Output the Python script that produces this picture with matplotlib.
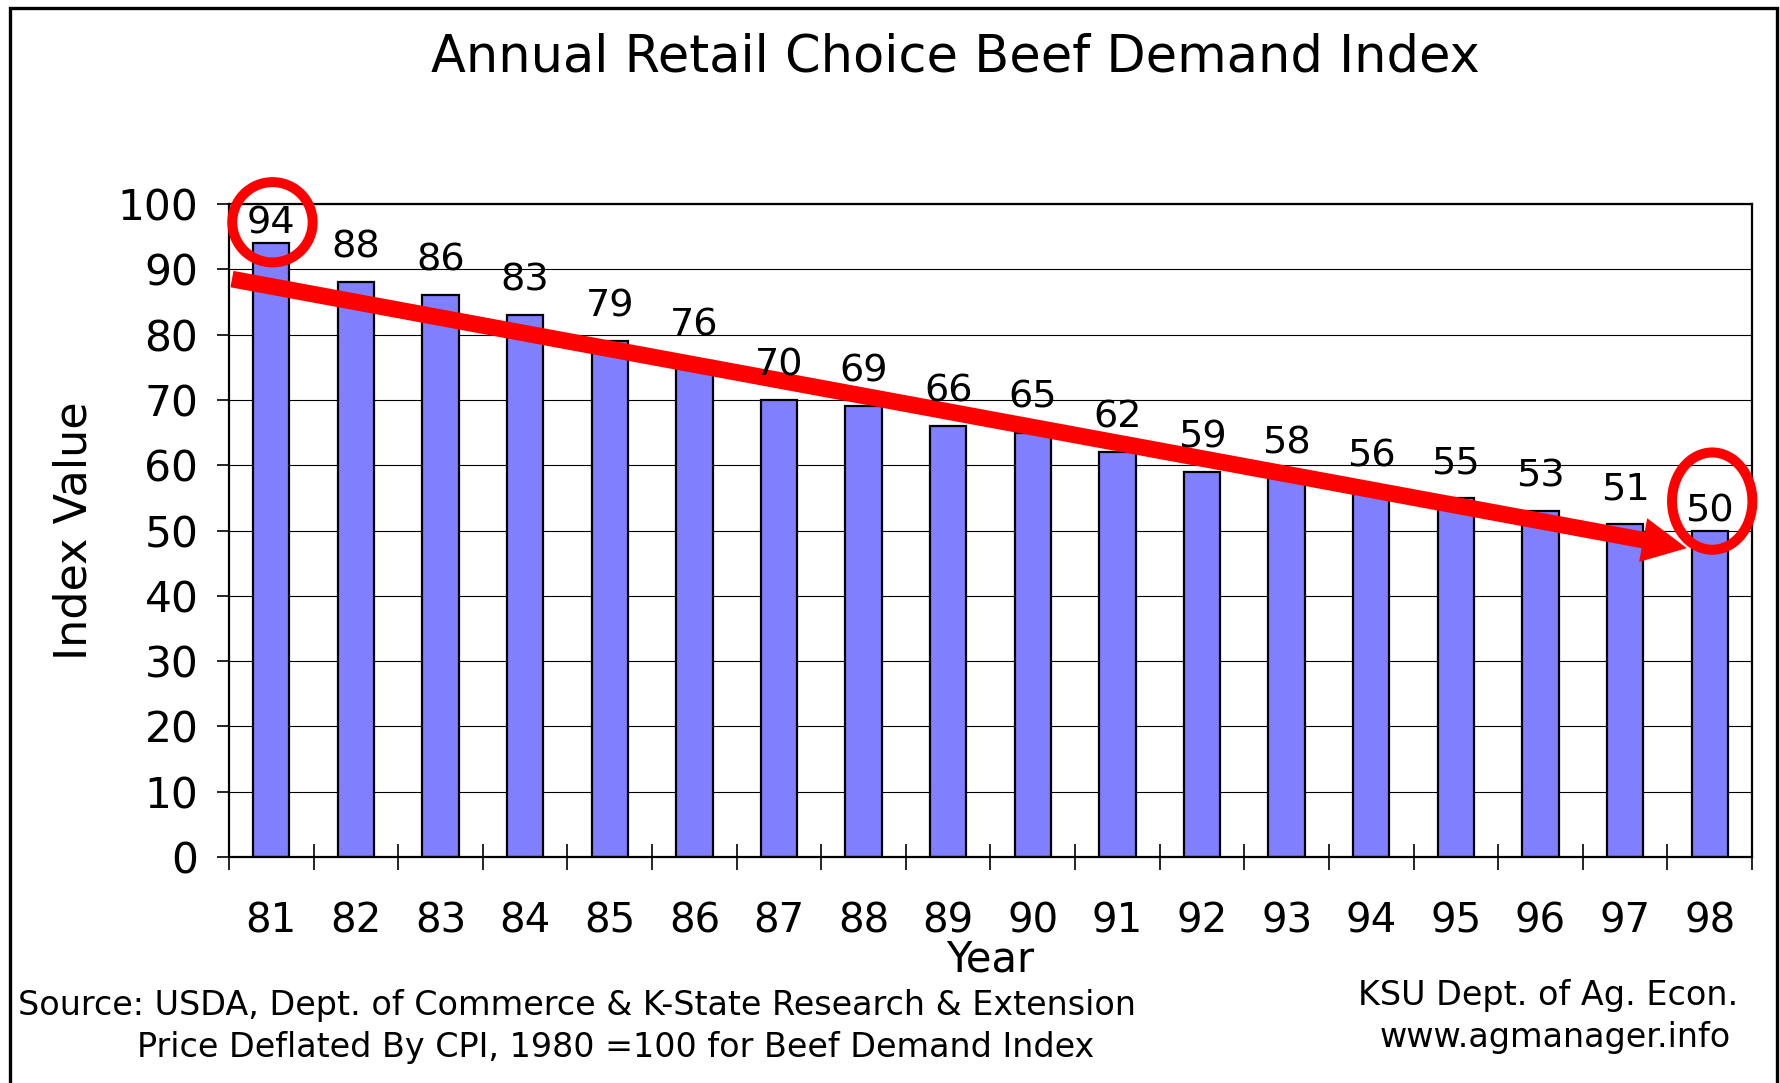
"""Annual retail choice beef demand index, 1981-1998."""

import matplotlib

matplotlib.use("Agg")
import matplotlib.pyplot as plt  # noqa: E402
import numpy as np  # noqa: E402
from matplotlib.patches import Ellipse, FancyArrowPatch, Rectangle  # noqa: E402

years = ["81", "82", "83", "84", "85", "86", "87", "88", "89",
         "90", "91", "92", "93", "94", "95", "96", "97", "98"]
index_values = [94, 88, 86, 83, 79, 76, 70, 69, 66,
                65, 62, 59, 58, 56, 55, 53, 51, 50]
y_ticks = [0, 10, 20, 30, 40, 50, 60, 70, 80, 90, 100]

BAR_COLOR = "#8080FF"
RED = "#FF0000"

plt.rcParams["font.family"] = ["DejaVu Sans"]

fig = plt.figure(figsize=(17.8, 10.83), dpi=100)
ax = fig.add_axes([229 / 1780, 1 - 857 / 1083, (1752 - 229) / 1780, (857 - 204) / 1083])

x = np.arange(len(years))
ax.bar(x, index_values, width=0.43, color=BAR_COLOR, edgecolor="black",
       linewidth=1.6, zorder=2)

# value labels; the two circled ones sit closer to their bars
last = len(index_values) - 1
for i, v in enumerate(index_values):
    off = 14 if i in (0, last) else 25
    ax.annotate(str(v), (x[i], v), xytext=(0, off), textcoords="offset points",
                ha="center", va="center", fontsize=27.5, zorder=4)

ax.set_xlim(-0.5, len(years) - 0.5)
ax.set_ylim(0, 100)
ax.set_yticks(y_ticks)
ax.tick_params(axis="y", labelsize=30.5, direction="out", length=9, width=1.2, pad=13)
ax.set_xticks(x)
ax.set_xticklabels(years)
ax.set_xticks(np.arange(-0.5, len(years)), minor=True)
ax.tick_params(axis="x", which="major", length=0, labelsize=29, pad=32)
ax.tick_params(axis="x", which="minor", direction="inout", length=19, width=1.2)
ax.grid(axis="y", color="black", linewidth=0.8, zorder=0)
ax.set_axisbelow(True)
for s in ax.spines.values():
    s.set_linewidth(1.6)

ax.set_xlabel("Year", fontsize=30, labelpad=-2)
ax.set_ylabel("Index Value", fontsize=32, labelpad=16)

# trend arrow
arrow = FancyArrowPatch((-0.465, 88.5), (16.73, 47.3),
                        arrowstyle="simple,head_length=32,head_width=32,tail_width=12",
                        mutation_scale=1, color=RED, linewidth=0,
                        shrinkA=0, shrinkB=0, zorder=3, clip_on=False)
ax.add_patch(arrow)

# circles around first and last values
ax.add_patch(Ellipse((x[0] + 0.014, index_values[0] + 3.2), 0.95, 12.3,
                     fill=False, edgecolor=RED, linewidth=7.2, zorder=5, clip_on=False))
ax.add_patch(Ellipse((x[last] + 0.03, index_values[last] + 4.5), 0.95, 14.9,
                     fill=False, edgecolor=RED, linewidth=7.2, zorder=5, clip_on=False))

fig.text(955 / 1780, 1 - 57 / 1083, "Annual Retail Choice Beef Demand Index",
         ha="center", va="center", fontsize=36.7)
fig.text(18 / 1780, 1 - 1006 / 1083,
         "Source: USDA, Dept. of Commerce & K-State Research & Extension",
         ha="left", va="center", fontsize=24)
fig.text(616 / 1780, 1 - 1047 / 1083,
         "Price Deflated By CPI, 1980 =100 for Beef Demand Index",
         ha="center", va="center", fontsize=24)
fig.text(1548 / 1780, 1 - 995 / 1083, "KSU Dept. of Ag. Econ.",
         ha="center", va="center", fontsize=24)
fig.text(1555 / 1780, 1 - 1037 / 1083, "www.agmanager.info",
         ha="center", va="center", fontsize=24)

# outer frame (bottom edge runs off the canvas)
fig.patches.append(Rectangle((10 / 1780, -0.02), (1777 - 10) / 1780, 1.02 - 8 / 1083,
                             transform=fig.transFigure, fill=False,
                             edgecolor="black", linewidth=2.4))

fig.savefig("out.png", dpi=100)
